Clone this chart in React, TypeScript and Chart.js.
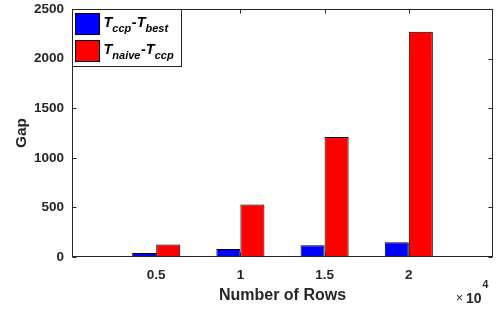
import { useEffect, useRef } from 'react';
import { Chart, registerables } from 'chart.js';

Chart.register(...registerables);

// ---- data ----
const rows = [0.5, 1, 1.5, 2]; // ×10^4
const gapCcpBest = [40, 81, 118, 148];
const gapNaiveCcp = [125, 528, 1210, 2270];
const seriesNames = [
  ['T', 'ccp', '-T', 'best'],
  ['T', 'naive', '-T', 'ccp'],
];
const seriesColors = ['#0000FF', '#FF0000'];
const yTicks = [0, 500, 1000, 1500, 2000, 2500];
const xTickLabels = ['0.5', '1', '1.5', '2'];
const xTitle = 'Number of Rows';
const yTitle = 'Gap';
const xExponent = '4';

const FONT = '"Liberation Sans", Arial, Helvetica, sans-serif';
const AX = '#262626';

const framePlugin = {
  id: 'matlabFrame',
  afterDraw(chart: any) {
    const { ctx, chartArea: a, scales } = chart;
    const L = Math.round(a.left) + 0.5;
    const R = Math.round(a.right) - 0.5;
    const T = Math.round(a.top) + 0.5;
    const B = Math.round(a.bottom) - 0.5;
    ctx.save();
    ctx.strokeStyle = AX;
    ctx.lineWidth = 1;
    ctx.strokeRect(L, T, R - L, B - T);
    const tl = 4;
    ctx.beginPath();
    rows.forEach((v) => {
      const x = Math.round(scales.x.getPixelForValue(v)) + 0.5;
      ctx.moveTo(x, B);
      ctx.lineTo(x, B - tl);
      ctx.moveTo(x, T);
      ctx.lineTo(x, T + tl);
    });
    yTicks.forEach((v) => {
      const y = Math.round(scales.y.getPixelForValue(v)) + 0.5;
      ctx.moveTo(L, y);
      ctx.lineTo(L + tl, y);
      ctx.moveTo(R, y);
      ctx.lineTo(R - tl, y);
    });
    ctx.stroke();

    // legend
    const lx = L, ly = T, lw = 109, lh = 57;
    ctx.fillStyle = '#FFFFFF';
    ctx.fillRect(lx, ly, lw, lh);
    ctx.strokeStyle = AX;
    ctx.strokeRect(lx, ly, lw, lh);
    chart.data.datasets.forEach((ds: any, i: number) => {
      const sy = ly + 4 + i * 27;
      ctx.fillStyle = ds.backgroundColor;
      ctx.fillRect(lx + 3, sy, 24, 21);
      ctx.strokeStyle = '#000000';
      ctx.strokeRect(lx + 3, sy, 24, 21);
      const parts = seriesNames[i];
      let tx = lx + 31;
      const base = sy + 13;
      ctx.fillStyle = '#000000';
      ctx.textBaseline = 'alphabetic';
      ctx.textAlign = 'left';
      parts.forEach((p, k) => {
        const sub = k % 2 === 1;
        ctx.font = sub ? `italic bold 11px ${FONT}` : `italic bold 14.5px ${FONT}`;
        ctx.fillText(p, tx, sub ? base + 5 : base);
        tx += ctx.measureText(p).width + (sub ? 0.5 : 0);
      });
    });

    // exponent
    ctx.fillStyle = AX;
    ctx.textBaseline = 'alphabetic';
    ctx.textAlign = 'left';
    ctx.font = `12px ${FONT}`;
    ctx.fillText('\u00D7', 456, 302);
    ctx.font = `bold 14px ${FONT}`;
    ctx.fillText('10', 466, 303);
    const w10 = ctx.measureText('10').width;
    ctx.font = `bold 10.5px ${FONT}`;
    ctx.fillText(xExponent, 466 + w10 + 1, 288);
    ctx.restore();
  },
};

export default function App() {
  const ref = useRef<HTMLCanvasElement | null>(null);
  useEffect(() => {
    if (!ref.current) return;
    const chart = new Chart(ref.current, {
      type: 'bar',
      data: {
        datasets: [
          {
            label: seriesNames[0].join(''),
            data: rows.map((x, i) => ({ x, y: gapCcpBest[i] })),
            backgroundColor: seriesColors[0],
            borderColor: '#000000',
            borderWidth: 1,
          },
          {
            label: seriesNames[1].join(''),
            data: rows.map((x, i) => ({ x, y: gapNaiveCcp[i] })),
            backgroundColor: seriesColors[1],
            borderColor: '#000000',
            borderWidth: 1,
          },
        ],
      },
      options: {
        animation: false,
        responsive: false,
        maintainAspectRatio: false,
        devicePixelRatio: 1,
        layout: { padding: { top: 9, right: 5, left: 0, bottom: 0 } },
        datasets: { bar: { categoryPercentage: 0.571, barPercentage: 1 } },
        plugins: { legend: { display: false }, tooltip: { enabled: false } },
        scales: {
          x: {
            type: 'linear',
            min: 0,
            max: 2.5,
            offset: false,
            grid: { display: false, drawTicks: false },
            border: { display: false },
            afterBuildTicks: (s: any) => {
              s.ticks = rows.map((v) => ({ value: v }));
            },
            afterFit: (s: any) => {
              s.height = 55;
              s.paddingLeft = 0;
              s.paddingRight = 0;
            },
            ticks: {
              padding: 10,
              color: AX,
              font: { family: FONT, size: 13.5, weight: 'bold' },
              callback: (v: any) => {
                const i = rows.indexOf(Number(v));
                return i >= 0 ? xTickLabels[i] : '';
              },
            },
            title: {
              display: true,
              text: xTitle,
              color: AX,
              font: { family: FONT, size: 16, weight: 'bold' },
              padding: { top: 4, bottom: 7 },
            },
          },
          y: {
            min: 0,
            max: 2500,
            grid: { display: false, drawTicks: false },
            border: { display: false },
            afterBuildTicks: (s: any) => {
              s.ticks = yTicks.map((v) => ({ value: v }));
            },
            afterFit: (s: any) => {
              s.width = 72;
              s.paddingTop = 0;
              s.paddingBottom = 0;
            },
            ticks: {
              padding: 8,
              color: AX,
              font: { family: FONT, size: 13.5, weight: 'bold' },
              callback: (v: any) => String(v),
            },
            title: {
              display: true,
              text: yTitle,
              color: AX,
              font: { family: FONT, size: 15.5, weight: 'bold' },
              padding: { top: 12, bottom: 0 },
            },
          },
        },
      },
      plugins: [framePlugin],
    } as any);
    return () => chart.destroy();
  }, []);
  return (
    <div style={{ position: 'fixed', left: 0, top: 0, width: 498, height: 312, background: '#fff' }}>
      <canvas ref={ref} width={498} height={312} style={{ width: 498, height: 312, display: 'block' }} />
    </div>
  );
}
